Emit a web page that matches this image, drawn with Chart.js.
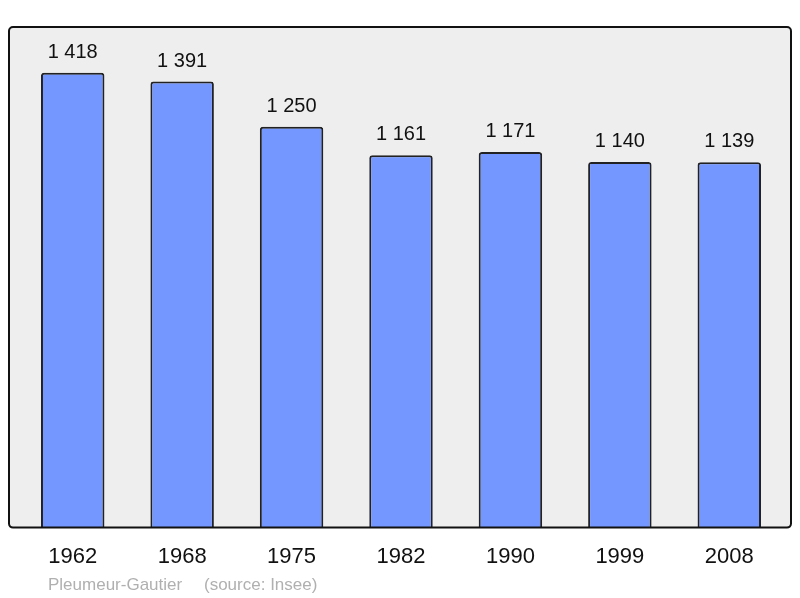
<!DOCTYPE html>
<html><head><meta charset="utf-8">
<script src="https://cdn.jsdelivr.net/npm/chart.js@4"></script>
<style>html,body{margin:0;padding:0;background:#fff}#w{width:800px;height:598px}</style>
</head><body><div id="w"><canvas id="c"></canvas></div>
<script>
const years = ["1962","1968","1975","1982","1990","1999","2008"];
const population = [1418,1391,1250,1161,1171,1140,1139];
const valueLabels = ["1 418","1 391","1 250","1 161","1 171","1 140","1 139"];
const commune = "Pleumeur-Gautier";
const source = "(source: Insee)";

const frame = {
  id:'frame',
  beforeDraw(chart){
    const {ctx, chartArea:a} = chart;
    const x0=a.left-9, x1=a.right+7, y0=a.top, y1=a.bottom;
    ctx.save();
    ctx.beginPath();
    ctx.roundRect(x0,y0,x1-x0,y1-y0,4);
    ctx.fillStyle='#eeeeee';
    ctx.fill();
    ctx.restore();
  },
  afterDatasetsDraw(chart){
    const {ctx, chartArea:a} = chart;
    const x0=a.left-9, x1=a.right+7, y0=a.top, y1=a.bottom;
    ctx.save();
    ctx.beginPath();
    ctx.roundRect(x0,y0,x1-x0,y1-y0,4);
    ctx.lineWidth=2;
    ctx.strokeStyle='#111';
    ctx.stroke();
    const meta = chart.getDatasetMeta(0);
    ctx.fillStyle='#111';
    ctx.font='20px "Liberation Sans", Arial, sans-serif';
    ctx.textAlign='center';
    ctx.textBaseline='alphabetic';
    meta.data.forEach((bar,i)=>{
      ctx.fillText(valueLabels[i], bar.x, bar.y-15);
    });
    ctx.fillStyle='#b0b0b0';
    ctx.font='17px "Liberation Sans", Arial, sans-serif';
    ctx.textAlign='left';
    ctx.fillText(commune, 48, 590);
    ctx.fillText(source, 204, 590);
    ctx.restore();
  }
};

new Chart(document.getElementById('c'), {
  type:'bar',
  data:{labels:years, datasets:[{
    data:population,
    backgroundColor:'#7396ff',
    borderColor:'#222',
    borderWidth:2,
    borderSkipped:'bottom',
    borderRadius:{topLeft:3,topRight:3,bottomLeft:0,bottomRight:0},
    barPercentage:0.58,
    categoryPercentage:1
  }]},
  options:{
    responsive:true, maintainAspectRatio:false, animation:false,
    devicePixelRatio:1,
    layout:{padding:{left:18,right:16,top:27,bottom:12}},
    plugins:{legend:{display:false},tooltip:{enabled:false}},
    scales:{
      x:{grid:{display:false,drawTicks:false},border:{display:false},
         ticks:{color:'#111',padding:16,font:{size:22,family:'"Liberation Sans", Arial, sans-serif'}}},
      y:{display:false,min:0,max:1561}
    }
  },
  plugins:[frame]
});
</script></body></html>
